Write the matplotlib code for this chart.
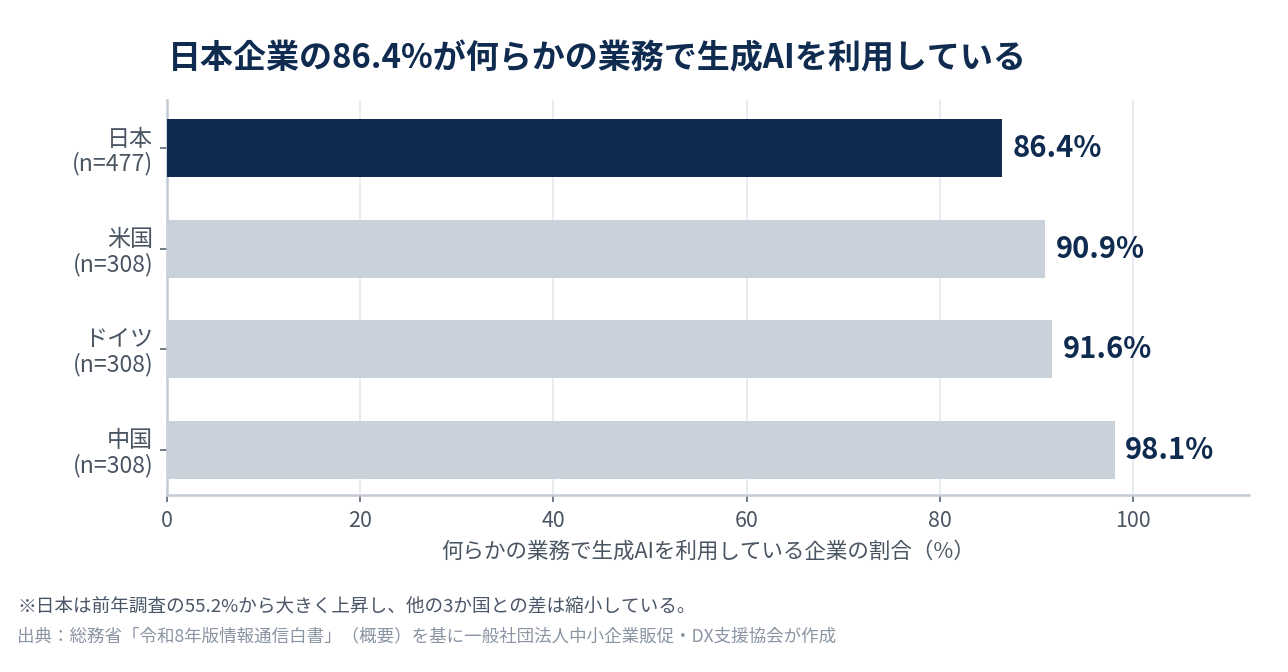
import matplotlib.pyplot as plt


OUTPUT_PATH = "out.png"

COUNTRIES = ["日本\n(n=477)", "米国\n(n=308)", "ドイツ\n(n=308)", "中国\n(n=308)"]
VALUES = [86.4, 90.9, 91.6, 98.1]
X_TICKS = [0, 20, 40, 60, 80, 100]

TITLE = "日本企業の86.4%が何らかの業務で生成AIを利用している"
X_LABEL = "何らかの業務で生成AIを利用している企業の割合（%）"
NOTE = "※日本は前年調査の55.2%から大きく上昇し、他の3か国との差は縮小している。"
SOURCE = "出典：総務省「令和8年版情報通信白書」（概要）を基に一般社団法人中小企業販促・DX支援協会が作成"

NAVY = "#0f2b4f"
LIGHT = "#c9d1da"
TEXT = "#4a5563"


def plot_usage():

    plt.rcParams["font.family"] = ["Noto Sans CJK JP", "DejaVu Sans"]

    fig = plt.figure(figsize=(12.88, 6.72), dpi=100)
    ax = fig.add_axes([0.1297, 0.2634, 0.84, 0.5876])

    colors = [NAVY] + [LIGHT] * (len(VALUES) - 1)
    y = list(range(len(VALUES)))

    ax.barh(y, VALUES, height=0.58, color=colors, zorder=3)

    for yi, v in zip(y, VALUES):
        ax.text(
            v + 1.1, yi, f"{v:.1f}%",
            va="center", ha="left",
            fontsize=21, fontweight="bold", color=NAVY
        )

    ax.set_xlim(0, 112)
    ax.set_ylim(3.45, -0.48)
    ax.set_yticks(y)
    ax.set_yticklabels(COUNTRIES, fontsize=16.6, color=TEXT, linespacing=1.08)
    ax.set_xticks(X_TICKS)
    ax.set_xticklabels([str(t) for t in X_TICKS], fontsize=15.4, color=TEXT)

    ax.set_xlabel(X_LABEL, fontsize=15.5, color=TEXT, labelpad=6)

    ax.grid(axis="x", color="#e5e8ec", linewidth=1.2, zorder=0)
    ax.tick_params(axis="both", color="#5a6472", length=5, width=1.2)
    ax.tick_params(axis="x", pad=6)
    ax.tick_params(axis="y", pad=5)

    for side in ["top", "right"]:
        ax.spines[side].set_visible(False)
    for side in ["left", "bottom"]:
        ax.spines[side].set_color("#c3cad3")
        ax.spines[side].set_linewidth(1.8)

    fig.text(0.130, 0.913, TITLE, fontsize=23.8, fontweight="bold",
             color=NAVY, va="center")
    fig.text(0.0132, 0.097, NOTE, fontsize=13.4, color="#4a5568", va="center")
    fig.text(0.0132, 0.053, SOURCE, fontsize=12.6, color="#8a94a3", va="center")

    plt.savefig(OUTPUT_PATH, dpi=100)


if __name__ == "__main__":

    plot_usage()
